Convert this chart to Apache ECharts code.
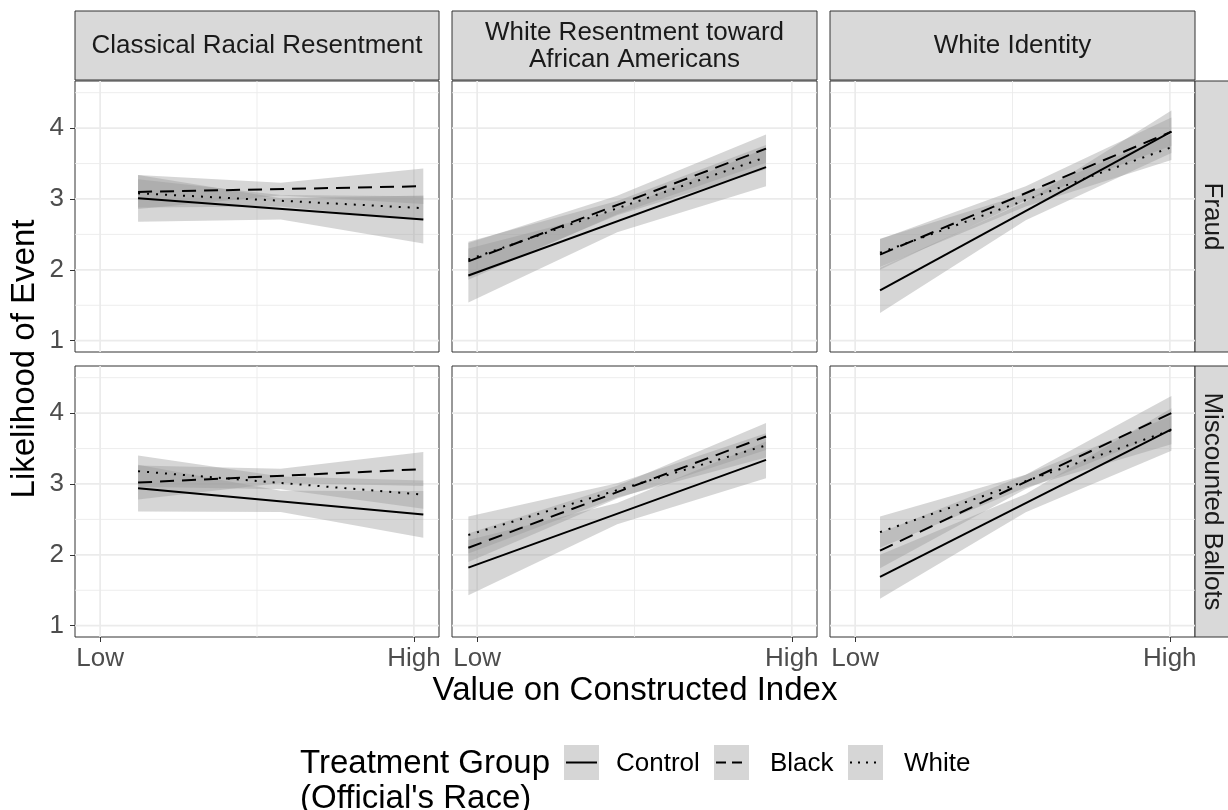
<!DOCTYPE html>
<html>
<head>
<meta charset="utf-8">
<title>Likelihood of Event by Constructed Index</title>
<script src="https://cdn.jsdelivr.net/npm/echarts@6/dist/echarts.min.js"></script>
<style>
  html, body { margin: 0; padding: 0; background: #fff; }
  #chart { width: 1228px; height: 810px; }
</style>
</head>
<body>
<div id="chart"></div>
<script>
// Facet labels
const rowLabels = ['Fraud', 'Miscounted Ballots'];
const colLabels = ['Classical Racial Resentment', 'White Resentment toward\nAfrican Americans', 'White Identity'];
const groups = ['Control', 'Black', 'White'];

// Axis ticks and grid values
const xTickValues = [0, 1];
const xTickLabels = ['Low', 'High'];
const xMinorGrid = [0.5];
const yTickValues = [1, 2, 3, 4];
const yMinorGrid = [1.5, 2.5, 3.5, 4.5];

// Fitted x range (start, middle, end) in each index column
const xFitCRR = [0.121, 0.5755, 1.03];
const xFitWRA = [-0.028, 0.445, 0.918];
const xFitWID = [0.079, 0.542, 1.005];

// Fitted lines [start, end] for Control, Black, White
const fitFraudCRR = [[3.01, 2.71], [3.10, 3.18], [3.08, 2.87]];
const fitFraudWRA = [[1.92, 3.45], [2.12, 3.71], [2.145, 3.59]];
const fitFraudWID = [[1.71, 3.95], [2.215, 3.95], [2.24, 3.73]];
const fitMiscCRR  = [[2.94, 2.57], [3.02, 3.21], [3.18, 2.85]];
const fitMiscWRA  = [[1.82, 3.34], [2.10, 3.67], [2.28, 3.545]];
const fitMiscWID  = [[1.69, 3.77], [2.06, 4.00], [2.32, 3.76]];

// Confidence band lower bounds (start, middle, end)
const loFraudCRR = [[2.68, 2.71, 2.37], [2.86, 3.05, 2.93], [2.88, 2.895, 2.70]];
const loFraudWRA = [[1.54, 2.53, 3.18], [1.86, 2.785, 3.51], [1.895, 2.77, 3.42]];
const loFraudWID = [[1.39, 2.70, 3.65], [2.00, 2.98, 3.75], [2.04, 2.895, 3.55]];
const loMiscCRR  = [[2.61, 2.605, 2.24], [2.78, 3.015, 2.97], [2.96, 2.925, 2.65]];
const loMiscWRA  = [[1.43, 2.43, 3.08], [1.90, 2.795, 3.48], [2.02, 2.81, 3.375]];
const loMiscWID  = [[1.38, 2.60, 3.47], [1.81, 2.93, 3.76], [2.10, 2.95, 3.56]];

// Confidence band upper bounds (start, middle, end)
const hiFraudCRR = [[3.34, 3.01, 3.05], [3.34, 3.23, 3.43], [3.28, 3.055, 3.04]];
const hiFraudWRA = [[2.30, 2.84, 3.72], [2.38, 3.045, 3.91], [2.395, 2.97, 3.76]];
const hiFraudWID = [[2.03, 2.96, 4.25], [2.43, 3.18, 4.15], [2.44, 3.075, 3.91]];
const hiMiscCRR  = [[3.27, 2.905, 2.90], [3.26, 3.215, 3.45], [3.40, 3.105, 3.05]];
const hiMiscWRA  = [[2.21, 2.73, 3.60], [2.30, 2.975, 3.86], [2.54, 3.01, 3.715]];
const hiMiscWID  = [[2.00, 2.86, 4.07], [2.31, 3.13, 4.24], [2.54, 3.13, 3.96]];

const panels = [
  { row: 0, col: 0, xs: xFitCRR, fit: fitFraudCRR, lo: loFraudCRR, hi: hiFraudCRR },
  { row: 0, col: 1, xs: xFitWRA, fit: fitFraudWRA, lo: loFraudWRA, hi: hiFraudWRA },
  { row: 0, col: 2, xs: xFitWID, fit: fitFraudWID, lo: loFraudWID, hi: hiFraudWID },
  { row: 1, col: 0, xs: xFitCRR, fit: fitMiscCRR,  lo: loMiscCRR,  hi: hiMiscCRR },
  { row: 1, col: 1, xs: xFitWRA, fit: fitMiscWRA,  lo: loMiscWRA,  hi: hiMiscWRA },
  { row: 1, col: 2, xs: xFitWID, fit: fitMiscWID,  lo: loMiscWID,  hi: hiMiscWID }
];

// Layout
const FONT = "'Liberation Sans', Arial, Helvetica, sans-serif";
const colLeft = [75, 452, 830];
const colWidth = [364, 365, 365];
const rowTop = [81, 366];
const rowHeight = 271;
const stripTop = 11;
const stripRight = 1195;
const lineTypes = ['solid', [14, 8], [2, 7]];
const bandFill = 'rgba(153,153,153,0.4)';

const grids = [], xAxes = [], yAxes = [], series = [];

panels.forEach((p, k) => {
  const bottom = p.row === 1, left = p.col === 0;
  grids.push({
    left: colLeft[p.col], top: rowTop[p.row], width: colWidth[p.col], height: rowHeight,
    show: true, borderColor: '#333', borderWidth: 1, backgroundColor: '#fff'
  });
  xAxes.push({
    gridIndex: k, type: 'value', min: -0.08, max: 1.08, position: 'bottom',
    axisLine: { show: false, onZero: false }, splitLine: { show: false },
    axisTick: { show: bottom, length: 5, customValues: xTickValues, lineStyle: { color: '#333', width: 1 } },
    axisLabel: {
      show: bottom, customValues: xTickValues, margin: 9,
      formatter: v => xTickLabels[xTickValues.indexOf(v)],
      fontSize: 26, color: '#4d4d4d', fontFamily: FONT
    }
  });
  yAxes.push({
    gridIndex: k, type: 'value', min: 0.84, max: 4.665, position: 'left',
    axisLine: { show: false, onZero: false }, splitLine: { show: false },
    axisTick: { show: left, length: 5, customValues: yTickValues, lineStyle: { color: '#333', width: 1 } },
    axisLabel: {
      show: left, customValues: yTickValues, margin: 11,
      fontSize: 26, color: '#4d4d4d', fontFamily: FONT
    }
  });

  // panel grid lines
  const gridData = []
    .concat(xTickValues.map(v => [0, v, 1]))
    .concat(xMinorGrid.map(v => [0, v, 0]))
    .concat(yTickValues.map(v => [1, v, 1]))
    .concat(yMinorGrid.map(v => [1, v, 0]));
  series.push({
    type: 'custom', xAxisIndex: k, yAxisIndex: k, z: 1, silent: true,
    data: gridData,
    renderItem: (params, api) => {
      const cs = params.coordSys;
      const kind = api.value(0), v = api.value(1), major = api.value(2);
      const w = major ? 1.7 : 0.9;
      if (kind === 0) {
        const x = api.coord([v, 2])[0];
        return { type: 'line', shape: { x1: x, y1: cs.y, x2: x, y2: cs.y + cs.height },
                 style: { stroke: '#ebebeb', lineWidth: w } };
      }
      const y = api.coord([0, v])[1];
      return { type: 'line', shape: { x1: cs.x, y1: y, x2: cs.x + cs.width, y2: y },
               style: { stroke: '#ebebeb', lineWidth: w } };
    }
  });

  // confidence bands
  groups.forEach((g, gi) => {
    const xs = p.xs, lo = p.lo[gi], hi = p.hi[gi];
    series.push({
      type: 'custom', name: g, xAxisIndex: k, yAxisIndex: k, z: 2, silent: true,
      data: xs.map((x, i) => [x, lo[i], hi[i]]),
      renderItem: (params, api) => {
        if (params.dataIndex !== 0) return null;
        const pts = [];
        for (let i = 0; i < xs.length; i++) pts.push(api.coord([xs[i], hi[i]]));
        for (let i = xs.length - 1; i >= 0; i--) pts.push(api.coord([xs[i], lo[i]]));
        return { type: 'polygon', shape: { points: pts }, style: { fill: bandFill } };
      }
    });
  });

  // fitted lines
  groups.forEach((g, gi) => {
    const xs = p.xs, f = p.fit[gi];
    series.push({
      type: 'line', name: g, xAxisIndex: k, yAxisIndex: k, z: 3, silent: true,
      data: [[xs[0], f[0]], [xs[xs.length - 1], f[1]]],
      symbol: 'none',
      lineStyle: { color: '#000', width: 2, type: lineTypes[gi] }
    });
  });
});

// strips, titles and legend
const graphics = [];
colLabels.forEach((label, c) => {
  graphics.push({
    type: 'rect', silent: true,
    shape: { x: colLeft[c], y: stripTop, width: colWidth[c], height: rowTop[0] - 1 - stripTop },
    style: { fill: '#d9d9d9', stroke: '#333', lineWidth: 1 }
  });
  graphics.push({
    type: 'text', silent: true,
    x: colLeft[c] + colWidth[c] / 2, y: (stripTop + rowTop[0]) / 2,
    style: { text: label, fill: '#1a1a1a', font: '26px ' + FONT, align: 'center', verticalAlign: 'middle', lineHeight: 27 }
  });
});
rowLabels.forEach((label, r) => {
  graphics.push({
    type: 'rect', silent: true,
    shape: { x: stripRight, y: rowTop[r], width: 45, height: rowHeight },
    style: { fill: '#d9d9d9', stroke: '#333', lineWidth: 1 }
  });
  graphics.push({
    type: 'text', silent: true,
    x: stripRight + 17, y: rowTop[r] + rowHeight / 2, rotation: -Math.PI / 2,
    style: { text: label, fill: '#1a1a1a', font: '26px ' + FONT, align: 'center', verticalAlign: 'middle' }
  });
});
graphics.push({
  type: 'text', silent: true, x: 635, y: 691,
  style: { text: 'Value on Constructed Index', fill: '#000', font: '33px ' + FONT, align: 'center', verticalAlign: 'middle' }
});
graphics.push({
  type: 'text', silent: true, x: 25, y: 359, rotation: Math.PI / 2,
  style: { text: 'Likelihood of Event', fill: '#000', font: '33px ' + FONT, align: 'center', verticalAlign: 'middle' }
});
graphics.push({
  type: 'text', silent: true, x: 300, y: 781,
  style: { text: 'Treatment Group\n(Official\'s Race)', fill: '#000', font: '33px ' + FONT, align: 'left', verticalAlign: 'middle', lineHeight: 35 }
});
const keyLeft = [564, 714, 848];
const keyText = [616, 770, 904];
groups.forEach((g, gi) => {
  graphics.push({
    type: 'rect', silent: true,
    shape: { x: keyLeft[gi], y: 745, width: 35, height: 35 },
    style: { fill: '#d6d6d6' }
  });
  graphics.push({
    type: 'line', silent: true,
    shape: { x1: keyLeft[gi] + 2, y1: 762.5, x2: keyLeft[gi] + 33, y2: 762.5 },
    style: { stroke: '#000', lineWidth: 2, lineDash: lineTypes[gi] === 'solid' ? null : (gi === 1 ? [10, 6] : [2, 6]) }
  });
  graphics.push({
    type: 'text', silent: true, x: keyText[gi], y: 764,
    style: { text: g, fill: '#000', font: '26px ' + FONT, align: 'left', verticalAlign: 'middle' }
  });
});

const chart = echarts.init(document.getElementById('chart'), null, { renderer: 'canvas' });
chart.setOption({
  animation: false,
  backgroundColor: '#fff',
  grid: grids,
  xAxis: xAxes,
  yAxis: yAxes,
  series: series,
  graphic: { elements: graphics }
});
</script>
</body>
</html>
